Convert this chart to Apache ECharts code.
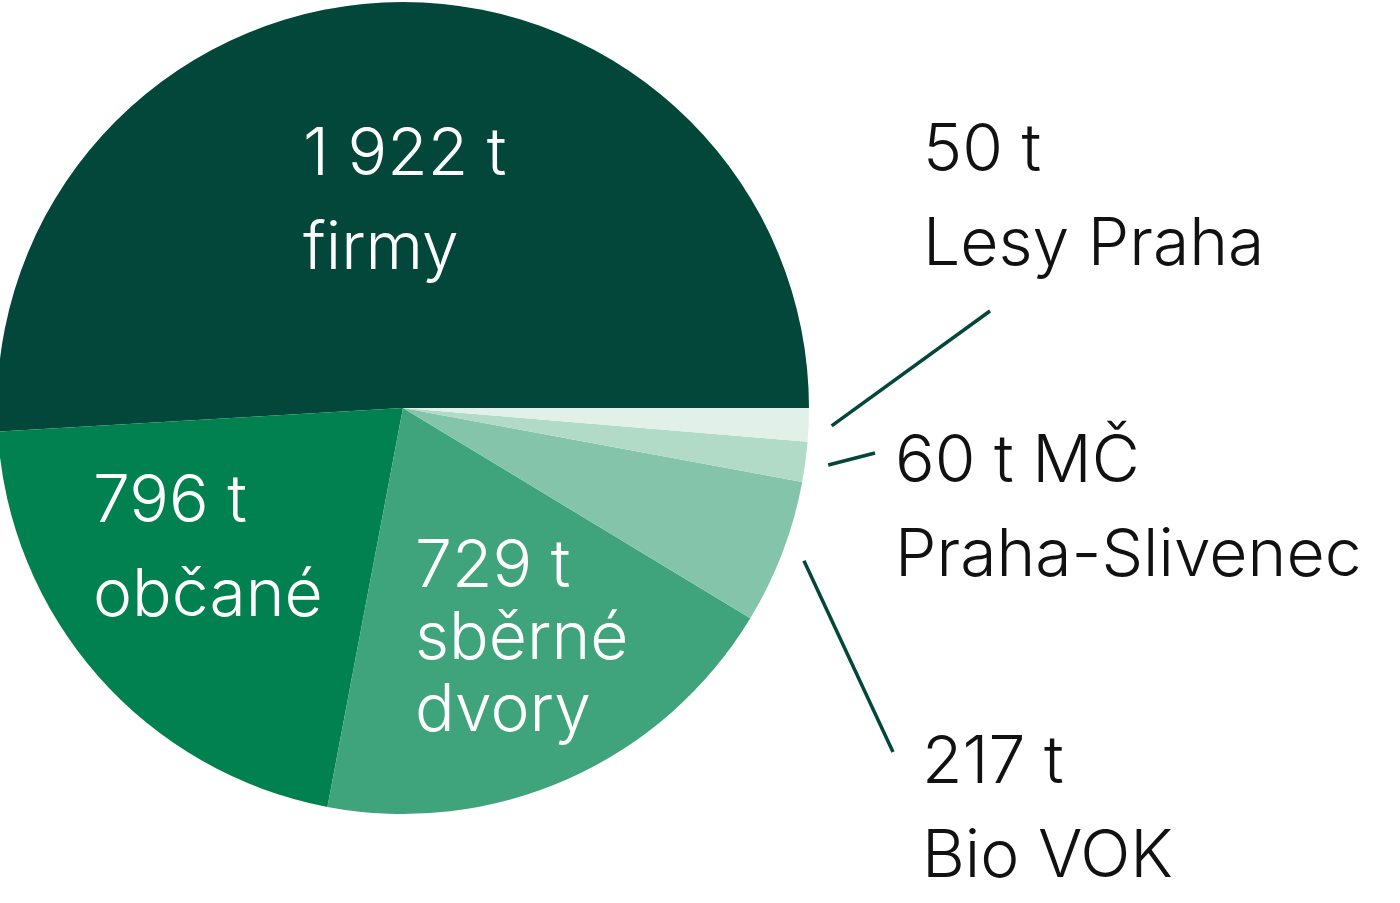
<!DOCTYPE html>
<html>
<head>
    <meta charset="utf-8">
    <title>ECharts</title>
    <script src="https://cdn.jsdelivr.net/npm/echarts@6/dist/echarts.min.js"></script>
    <style>
        html, body { margin: 0; padding: 0; background: #fff; }
    </style>
</head>
<body>
    <div id="main" style="width: 1400px;height:903px;"></div>
    <script type="text/javascript">
        // data
        var categories = ['firmy', 'občané', 'sběrné dvory', 'Bio VOK', 'MČ Praha-Slivenec', 'Lesy Praha'];
        var values = [1922, 796, 729, 217, 60, 50];
        var labelTexts = ['firmy', 'občané', 'sběrné\ndvory', 'Bio VOK', 'Praha-Slivenec', 'Lesy Praha'];
        var colors = ['#03473b', '#00814f', '#3fa47b', '#84c4aa', '#b1dbc7', '#e1f1ea'];

        // layout of labels (pixels), not data
        var cx = 403, cy = 408, R = 406;
        var labelPos = [
            { x: 303, y: 108, lh: 94 },
            { x: 93, y: 455, lh: 94 },
            { x: 415, y: 531, lh: 72 },
            { x: 922, y: 716, lh: 94, end: [893, 752] },
            { x: 895, y: 415, lh: 94, end: [875, 453] },
            { x: 923, y: 104, lh: 94, end: [990, 311] }
        ];

        function fmt(v) {
            return String(v).replace(/\B(?=(\d{3})+(?!\d))/g, ' ');
        }

        var chart = echarts.init(document.getElementById('main'));

        var seriesData = [];
        for (var i = 0; i < values.length; i++) {
            var inside = i < 3;
            var first = fmt(values[i]) + ' t';
            var txt = (i === 4) ? first + ' MČ\n' + labelTexts[i] : first + '\n' + labelTexts[i];
            seriesData.push({
                name: categories[i],
                value: values[i],
                itemStyle: { color: colors[i] },
                label: {
                    show: true,
                    position: inside ? 'inside' : 'outside',
                    formatter: txt,
                    color: inside ? '#ffffff' : '#111111',
                    lineHeight: labelPos[i].lh
                },
                labelLine: { show: !inside }
            });
        }

        var option = {
            animation: false,
            series: [{
                type: 'pie',
                center: [cx, cy],
                radius: R,
                startAngle: 0,
                clockwise: false,
                avoidLabelOverlap: false,
                itemStyle: { borderWidth: 0 },
                label: {
                    fontFamily: 'Inter',
                    fontWeight: 300,
                    fontSize: 66
                },
                labelLine: {
                    lineStyle: { color: '#03473b', width: 3.5 }
                },
                labelLayout: function (params) {
                    var p = labelPos[params.dataIndex];
                    var res = { x: p.x, y: p.y, align: 'left', verticalAlign: 'top' };
                    if (p.end && params.labelLinePoints) {
                        var p0 = params.labelLinePoints[0];
                        var dx = p0[0] - cx, dy = p0[1] - cy;
                        var d = Math.sqrt(dx * dx + dy * dy);
                        var k = (R + 23) / d;
                        res.labelLinePoints = [[cx + dx * k, cy + dy * k], p.end];
                    }
                    return res;
                },
                data: seriesData
            }]
        };

        chart.setOption(option);
    </script>
</body>
</html>
